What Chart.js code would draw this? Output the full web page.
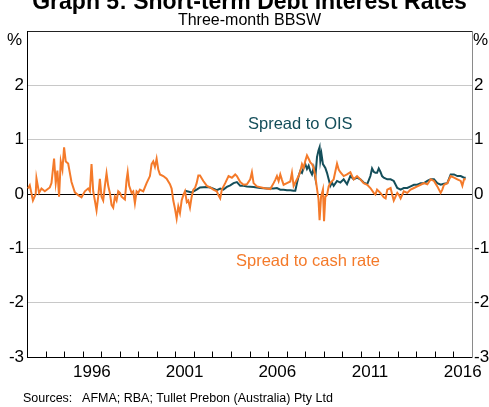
<!DOCTYPE html>
<html>
<head>
<meta charset="utf-8">
<script src="https://cdn.jsdelivr.net/npm/chart.js@4/dist/chart.umd.min.js"></script>
<style>
  html, body { margin: 0; padding: 0; background: #fff; }
  #wrap { position: relative; width: 489px; height: 407px; overflow: hidden; font-family: "Liberation Sans", Arial, sans-serif; color: #000; }
  #wrap canvas { position: absolute; left: 0; top: 0; }
  .t { position: absolute; white-space: nowrap; line-height: 1; }
</style>
</head>
<body>
<div id="wrap">
  <canvas id="c" width="489" height="407"></canvas>
  <div class="t" id="title" style="left:10px;width:479px;text-align:center;top:-10.5px;font-size:23px;font-weight:bold;">Graph 5: Short-term Debt Interest Rates</div>
  <div class="t" style="left:10px;width:479px;text-align:center;top:11.5px;font-size:16px;">Three-month BBSW</div>
  <div class="t" style="left:7px;top:31px;font-size:17px;">%</div>
  <div class="t" style="left:473px;top:31px;font-size:17px;">%</div>
  <div class="t" style="left:248px;width:100px;text-align:center;top:115px;font-size:16.5px;color:#144e5a;">Spread to OIS</div>
  <div class="t" style="left:208px;width:200px;text-align:center;top:252px;font-size:16.5px;color:#f47a2a;">Spread to cash rate</div>
  <div class="t" style="left:23px;top:392px;font-size:12.5px;white-space:pre;">Sources:   AFMA; RBA; Tullet Prebon (Australia) Pty Ltd</div>
</div>
<script>
// ---- Data ----
const cashYears = [1993.05,1993.15,1993.32,1993.47,1993.51,1993.65,1993.78,1993.96,1994.23,1994.32,
1994.46,1994.55,1994.64,1994.73,1994.82,1994.91,1995.00,1995.09,1995.22,1995.40,
1995.58,1995.76,1995.94,1996.12,1996.30,1996.39,1996.48,1996.57,1996.66,1996.75,
1996.84,1996.93,1997.02,1997.11,1997.20,1997.29,1997.38,1997.47,1997.56,1997.65,
1997.74,1997.83,1997.92,1998.01,1998.10,1998.28,1998.37,1998.43,1998.51,1998.64,
1998.73,1998.82,1998.91,1999.00,1999.09,1999.27,1999.45,1999.63,1999.72,1999.81,
1999.90,1999.99,2000.08,2000.17,2000.35,2000.53,2000.71,2000.80,2000.89,2000.98,
2001.07,2001.16,2001.25,2001.34,2001.43,2001.52,2001.62,2001.70,2001.79,2001.88,
2001.97,2002.06,2002.15,2002.24,2002.33,2002.51,2002.70,2002.88,2003.05,2003.24,
2003.32,2003.42,2003.51,2003.69,2003.87,2004.05,2004.23,2004.32,2004.50,2004.68,
2004.86,2005.04,2005.13,2005.22,2005.40,2005.76,2006.12,2006.30,2006.39,2006.48,
2006.57,2006.66,2006.75,2006.84,2007.02,2007.20,2007.29,2007.38,2007.56,2007.65,
2007.74,2007.83,2007.92,2008.01,2008.10,2008.19,2008.28,2008.37,2008.46,2008.55,
2008.64,2008.72,2008.78,2008.86,2008.96,2009.02,2009.09,2009.18,2009.27,2009.36,
2009.54,2009.72,2009.81,2009.90,2010.08,2010.26,2010.44,2010.62,2010.80,2010.98,
2011.16,2011.35,2011.52,2011.70,2011.79,2011.88,2012.06,2012.24,2012.34,2012.43,
2012.61,2012.70,2012.78,2012.97,2013.06,2013.15,2013.32,2013.51,2013.69,2013.87,
2014.05,2014.23,2014.41,2014.59,2014.77,2014.95,2015.13,2015.31,2015.40,2015.49,
2015.67,2015.85,2016.03,2016.21,2016.39,2016.48,2016.57,2016.66];
const cashSpread = [0.10,0.16,-0.12,0.00,0.29,0.02,0.10,0.05,0.12,0.20,
0.65,0.20,0.43,-0.05,0.60,0.45,0.86,0.60,0.56,0.22,
0.03,-0.02,-0.06,0.05,0.10,0.05,0.55,0.05,-0.12,-0.30,
-0.05,0.28,-0.05,-0.12,0.15,0.38,0.15,0.02,-0.20,-0.25,
-0.05,-0.12,0.05,0.02,-0.05,-0.10,0.26,0.40,0.15,0.02,
0.05,-0.17,0.05,0.02,0.08,0.05,0.20,0.33,0.55,0.60,
0.50,0.65,0.45,0.36,0.33,0.28,0.18,0.10,-0.12,-0.27,
-0.45,-0.23,-0.35,-0.12,-0.02,0.05,-0.15,-0.12,-0.25,-0.05,
0.08,0.11,0.20,0.34,0.34,0.24,0.15,0.12,0.08,0.05,
-0.02,-0.08,0.08,0.20,0.33,0.30,0.36,0.33,0.22,0.17,
0.18,0.27,0.40,0.20,0.14,0.11,0.09,0.20,0.26,0.33,
0.24,0.36,0.26,0.17,0.20,0.23,0.39,0.15,0.27,0.33,
0.42,0.55,0.48,0.61,0.71,0.65,0.58,0.55,0.48,0.33,
0.10,-0.09,-0.48,-0.05,0.08,-0.50,-0.05,-0.02,0.14,0.20,
0.27,0.56,0.45,0.40,0.33,0.36,0.40,0.27,0.33,0.27,
0.20,0.17,0.11,0.02,-0.01,0.08,0.02,-0.06,-0.08,0.08,
0.11,-0.02,-0.12,0.02,-0.02,-0.08,0.05,0.02,0.08,0.11,
0.14,0.17,0.20,0.18,0.27,0.24,0.14,0.02,0.08,0.17,
0.20,0.33,0.30,0.27,0.24,0.15,0.27,0.27];

const oisYears = [2001.52,2001.88,2002.15,2002.33,2002.70,2002.88,2003.05,2003.24,2003.42,2003.59,
2003.78,2003.96,2004.14,2004.32,2004.50,2004.68,2004.86,2005.22,2005.58,2005.94,
2006.30,2006.48,2006.66,2006.84,2007.02,2007.20,2007.38,2007.47,2007.56,2007.65,
2007.74,2007.83,2007.92,2008.01,2008.10,2008.19,2008.28,2008.37,2008.46,2008.55,
2008.64,2008.72,2008.78,2008.82,2008.88,2008.96,2009.09,2009.18,2009.27,2009.36,
2009.45,2009.54,2009.72,2009.90,2010.08,2010.26,2010.44,2010.62,2010.80,2010.98,
2011.16,2011.35,2011.52,2011.61,2011.70,2011.79,2011.88,2011.97,2012.06,2012.15,
2012.24,2012.43,2012.61,2012.78,2012.97,2013.15,2013.32,2013.51,2013.69,2013.87,
2014.05,2014.23,2014.41,2014.59,2014.77,2014.95,2015.13,2015.31,2015.49,2015.67,
2015.85,2016.03,2016.21,2016.39,2016.57,2016.66];
const oisSpread = [0.06,0.03,0.08,0.12,0.13,0.12,0.10,0.07,0.10,0.08,
0.13,0.16,0.20,0.22,0.15,0.15,0.14,0.13,0.11,0.10,
0.10,0.11,0.08,0.08,0.07,0.07,0.06,0.06,0.20,0.33,
0.42,0.39,0.48,0.55,0.46,0.52,0.42,0.36,0.48,0.30,
0.68,0.80,0.86,0.61,0.74,0.55,0.48,0.39,0.27,0.15,
0.21,0.15,0.24,0.21,0.27,0.18,0.33,0.27,0.30,0.27,
0.21,0.18,0.33,0.47,0.41,0.39,0.39,0.47,0.41,0.33,
0.30,0.27,0.27,0.24,0.11,0.08,0.11,0.11,0.14,0.17,
0.17,0.20,0.20,0.24,0.27,0.27,0.20,0.17,0.19,0.20,
0.36,0.36,0.33,0.33,0.30,0.30];

const xLabelYears = [1996, 2001, 2006, 2011, 2016];
const xStart = 1993, xEnd = 2017;
const yMin = -3, yMax = 3;

const ORANGE = '#f47a2a';
const TEAL = '#144e5a';
const FONT = '"Liberation Sans", Arial, sans-serif';

const toPts = (xs, ys) => xs.map((x, i) => ({ x: x, y: ys[i] }));

const yearTicks = {
  id: 'yearTicks',
  afterDraw(chart) {
    const ctx = chart.ctx;
    const xs = chart.scales.x;
    const bottom = chart.chartArea.bottom;
    ctx.save();
    ctx.globalCompositeOperation = 'source-over';
    ctx.setLineDash([]);
    ctx.strokeStyle = '#000000';
    ctx.lineWidth = 1;
    ctx.beginPath();
    for (let yr = xStart + 1; yr < xEnd; yr++) {
      const px = Math.round(xs.getPixelForValue(yr)) + 0.5;
      ctx.moveTo(px, bottom + 0.5);
      ctx.lineTo(px, bottom - 5.5);
    }
    ctx.stroke();
    ctx.restore();
  }
};

new Chart(document.getElementById('c'), {
  type: 'line',
  data: {
    datasets: [
      { label: 'Spread to cash rate', data: toPts(cashYears, cashSpread), borderColor: ORANGE, borderWidth: 2, pointRadius: 0, tension: 0, yAxisID: 'y' },
      { label: 'Spread to OIS', data: toPts(oisYears, oisSpread), borderColor: TEAL, borderWidth: 2, pointRadius: 0, tension: 0, yAxisID: 'y' }
    ]
  },
  options: {
    responsive: false,
    animation: false,
    devicePixelRatio: 1,
    layout: { padding: { top: 31, left: 0, right: 0, bottom: 0 } },
    plugins: { legend: { display: false }, tooltip: { enabled: false }, title: { display: false } },
    scales: {
      x: {
        type: 'linear', min: xStart, max: xEnd,
        afterBuildTicks: (s) => { s.ticks = xLabelYears.map(v => ({ value: v + 0.5 })); },
        afterFit: (s) => { s.height = 50; },
        ticks: { autoSkip: false, maxRotation: 0, padding: 5, color: '#000', font: { family: FONT, size: 17 },
          callback: (v) => String(Math.floor(v)) },
        grid: { display: false, drawTicks: false },
        border: { display: true, color: '#000', width: 1 }
      },
      y: {
        position: 'left', min: yMin, max: yMax,
        afterFit: (s) => { s.width = 27; },
        ticks: { stepSize: 1, padding: 3, color: '#000', font: { family: FONT, size: 17 },
          callback: (v) => (v === yMax ? '' : String(v)) },
        grid: { drawTicks: false,
          color: (c) => (c.tick.value === 0 ? '#000' : (c.tick.value === yMax || c.tick.value === yMin ? '#222' : '#c8c8c8')),
          lineWidth: 1 },
        border: { display: true, color: '#000', width: 1 }
      },
      y2: {
        position: 'right', min: yMin, max: yMax,
        afterFit: (s) => { s.width = 17; },
        ticks: { stepSize: 1, padding: 2, color: '#000', font: { family: FONT, size: 17 },
          callback: (v) => (v === yMax ? '' : String(v)) },
        grid: { display: false, drawTicks: false },
        border: { display: true, color: '#8a8a8a', width: 1 }
      }
    }
  },
  plugins: [yearTicks]
});
</script>
</body>
</html>
